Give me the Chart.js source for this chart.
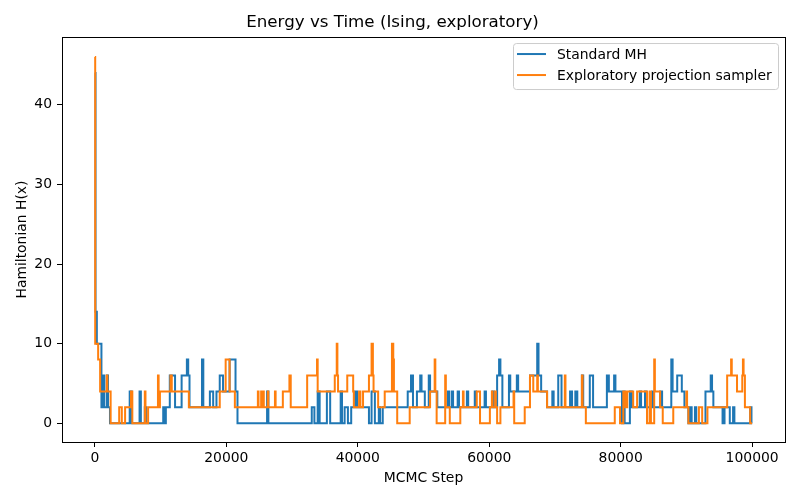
<!DOCTYPE html>
<html>
<head>
<meta charset="utf-8">
<script src="https://cdn.jsdelivr.net/npm/chart.js@4.4.1/dist/chart.umd.min.js"></script>
<style>
  html, body { margin: 0; padding: 0; background: #fff; }
</style>
</head>
<body>
<canvas id="chart" width="800" height="500"></canvas>
<script>
// step where the energy changes, and the energy from that step on
const stdSteps = [0, 100, 300, 1000, 1200, 1400, 1800, 2000, 2300, 5300, 5600, 6800, 7000, 7600, 7800,
  10400, 10600, 10800, 11400, 12200, 13200, 14000, 14200, 14400, 16300, 16500, 17500, 18000, 18500,
  19000, 19500, 20500, 21400, 21700, 26200, 26400, 33000, 33400, 33900, 34200, 35300, 35800, 37400,
  37600, 38000, 38500, 39000, 39600, 39900, 41700, 42100, 42600, 43200, 43400, 43800, 47600, 48100,
  48400, 49000, 49500, 49700, 50200, 50800, 51000, 52100, 53700, 53900, 54300, 54500, 55200, 55400,
  56600, 56800, 57800, 58000, 59300, 59500, 60500, 60700, 61200, 61500, 61700, 62000, 63000, 63200,
  64200, 64400, 66200, 67300, 67500, 67900, 68800, 69600, 69800, 70500, 71000, 72300, 72600, 73100,
  73400, 74100, 74300, 75300, 75800, 77900, 78200, 79000, 79200, 80200, 80400, 80600, 81400, 81700,
  82900, 83100, 83700, 83900, 84800, 85000, 86000, 86300, 87700, 87900, 88600, 89300, 89700, 90300,
  90600, 90800, 91300, 91500, 92900, 93700, 93900, 94100, 95500, 95800, 96600, 97100, 97300, 99700,
  99900, 100000];
const stdEnergy = [44, 14, 10, 2, 6, 2, 6, 2, 0, 4, 0, 4, 0, 2, 0,
  2, 0, 2, 6, 2, 6, 8, 6, 2, 8, 2, 4, 2, 4,
  6, 4, 8, 4, 0, 4, 0, 2, 0, 4, 0, 4, 0, 4,
  0, 2, 0, 2, 4, 2, 0, 4, 0, 2, 0, 2, 4, 6,
  2, 4, 6, 4, 2, 6, 4, 2, 4, 2, 4, 2, 4, 2,
  4, 2, 4, 2, 4, 2, 4, 2, 6, 8, 6, 2, 6, 4,
  6, 4, 6, 10, 6, 4, 2, 4, 2, 6, 2, 4, 2, 4,
  2, 6, 2, 6, 2, 6, 4, 6, 4, 0, 4, 0, 4, 2,
  4, 2, 4, 2, 4, 2, 4, 2, 8, 4, 6, 4, 2, 0,
  2, 0, 2, 0, 4, 6, 4, 2, 0, 2, 0, 2, 0, 2,
  0, 0];

const expSteps = [0, 50, 500, 800, 1800, 1900, 2400, 3700, 4100, 4600, 5500, 5700, 7600, 7700, 8100,
  9600, 9700, 9900, 11500, 11700, 14300, 19000, 19900, 20500, 21300, 24800, 24900, 25300, 25400,
  25600, 25700, 26300, 26400, 27400, 27500, 28600, 29600, 29800, 32300, 33800, 33900, 36500, 36800,
  36900, 37000, 38400, 39300, 39400, 40200, 40400, 40800, 41700, 42100, 42300, 42400, 43100, 44100,
  45200, 45400, 45500, 46000, 47900, 51000, 51700, 51800, 52000, 53300, 53400, 54000, 55600, 56000,
  56100, 58100, 58600, 60100, 60400, 60500, 60900, 61000, 61200, 61700, 63700, 63800, 65400, 66200,
  66700, 67300, 67400, 68800, 71500, 71600, 74100, 74200, 74700, 79100, 79900, 80400, 80700, 81000,
  81900, 82500, 84000, 84400, 84600, 85100, 85200, 86000, 86400, 88000, 90000, 90100, 90300, 91900,
  92400, 93200, 96200, 96800, 96900, 97700, 98500, 98600, 98700, 98900, 99700, 100000];
const expEnergy = [46, 10, 8, 4, 6, 4, 0, 2, 0, 2, 4, 0, 4, 0, 2,
  6, 2, 4, 6, 4, 2, 4, 8, 4, 2, 4, 2, 4, 2,
  4, 2, 4, 2, 4, 2, 4, 6, 2, 6, 8, 4, 6, 10,
  6, 4, 6, 4, 2, 4, 2, 4, 6, 10, 6, 4, 2, 4,
  10, 8, 4, 0, 2, 4, 8, 4, 0, 6, 2, 0, 2, 4,
  2, 4, 0, 2, 4, 2, 4, 2, 0, 2, 4, 0, 2, 6,
  4, 6, 4, 2, 6, 2, 6, 2, 0, 2, 0, 4, 2, 4,
  2, 4, 0, 4, 0, 8, 4, 2, 0, 2, 4, 2, 0, 2,
  0, 2, 6, 8, 6, 4, 6, 8, 6, 2, 0, 0];

const xTicks = [0, 20000, 40000, 60000, 80000, 100000];
const yTicks = [0, 10, 20, 30, 40];

const font = { family: 'DejaVu Sans', size: 13.9 };

const toPoints = (steps, energy) => steps.map((s, i) => ({ x: s, y: energy[i] }));

// black box around the plot area, like the reference
const framePlugin = {
  id: 'frame',
  afterDatasetsDraw(chart) {
    const { ctx, chartArea } = chart;
    ctx.save();
    ctx.strokeStyle = '#000';
    ctx.lineWidth = 1;
    ctx.strokeRect(
      Math.round(chartArea.left) + 0.5,
      Math.round(chartArea.top) + 0.5,
      Math.round(chartArea.right - chartArea.left),
      Math.round(chartArea.bottom - chartArea.top),
    );
    ctx.restore();
  },
};

// legend inside the plot, upper right
const boxLegend = {
  id: 'boxLegend',
  afterDraw(chart) {
    const { ctx, chartArea } = chart;
    const x = chartArea.right - 272;
    const y = chartArea.top + 6;
    const w = 265;
    const h = 46;
    ctx.save();
    ctx.beginPath();
    ctx.roundRect(x + 0.5, y + 0.5, w, h, 3);
    ctx.fillStyle = 'rgba(255,255,255,0.8)';
    ctx.fill();
    ctx.strokeStyle = '#cccccc';
    ctx.lineWidth = 1;
    ctx.stroke();
    ctx.font = `${font.size}px ${font.family}`;
    ctx.textBaseline = 'middle';
    chart.data.datasets.forEach((ds, i) => {
      const ly = y + 11 + i * 21;
      ctx.strokeStyle = ds.borderColor;
      ctx.lineWidth = 2;
      ctx.beginPath();
      ctx.moveTo(x + 4, ly);
      ctx.lineTo(x + 33, ly);
      ctx.stroke();
      ctx.fillStyle = '#000';
      ctx.fillText(ds.label, x + 44, ly + 1);
    });
    ctx.restore();
  },
};

new Chart(document.getElementById('chart'), {
  type: 'line',
  data: {
    datasets: [
      {
        label: 'Standard MH',
        data: toPoints(stdSteps, stdEnergy),
        borderColor: '#1f77b4',
        order: 1,
      },
      {
        label: 'Exploratory projection sampler',
        data: toPoints(expSteps, expEnergy),
        borderColor: '#ff7f0e',
        order: 0,
      },
    ],
  },
  options: {
    responsive: false,
    animation: false,
    layout: { padding: { left: 0, right: 15, top: 0, bottom: 0 } },
    elements: {
      point: { radius: 0 },
      line: { borderWidth: 2, stepped: true, tension: 0, fill: false },
    },
    plugins: {
      legend: { display: false },
      tooltip: { enabled: false },
      title: {
        display: true,
        text: 'Energy vs Time (Ising, exploratory)',
        color: '#000',
        font: { family: 'DejaVu Sans', size: 16.7, weight: 'normal' },
        padding: { top: 13, bottom: 4 },
      },
    },
    scales: {
      x: {
        type: 'linear',
        min: -5000,
        max: 105000,
        afterBuildTicks: (scale) => {
          scale.ticks = xTicks.map((v) => ({ value: v }));
        },
        afterFit: (scale) => {
          scale.height = 58;
        },
        ticks: {
          callback: (v) => String(v),
          color: '#000',
          font,
          padding: 3,
          maxRotation: 0,
          autoSkip: false,
        },
        grid: { display: true, drawOnChartArea: false, drawTicks: true, tickLength: 5, color: '#000' },
        border: { display: true, color: '#000' },
        title: {
          display: true,
          text: 'MCMC Step',
          color: '#000',
          font,
          padding: { top: 0, bottom: 13 },
        },
      },
      y: {
        type: 'linear',
        min: -2.35,
        max: 48.5,
        afterBuildTicks: (scale) => {
          scale.ticks = yTicks.map((v) => ({ value: v }));
        },
        afterFit: (scale) => {
          scale.width = 62;
        },
        ticks: {
          callback: (v) => String(v),
          color: '#000',
          font,
          padding: 5,
          autoSkip: false,
        },
        grid: { display: true, drawOnChartArea: false, drawTicks: true, tickLength: 5, color: '#000' },
        border: { display: true, color: '#000' },
        title: {
          display: true,
          text: 'Hamiltonian H(x)',
          color: '#000',
          font,
          padding: { top: 14, bottom: 0 },
        },
      },
    },
  },
  plugins: [framePlugin, boxLegend],
});
</script>
</body>
</html>
